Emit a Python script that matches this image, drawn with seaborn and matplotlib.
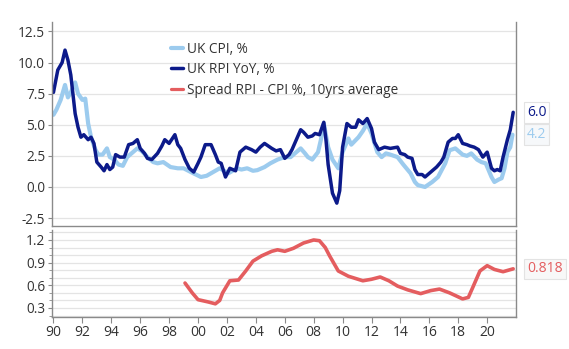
import matplotlib
matplotlib.use("Agg")
import matplotlib.pyplot as plt
import seaborn as sns
import pandas as pd
import numpy as np

# ---- data ----
rpi_years = [1990.0, 1990.3, 1990.6, 1990.8, 1991.0, 1991.2, 1991.5, 1991.7, 1991.9, 1992.1,
             1992.4, 1992.6, 1992.8, 1993.0, 1993.3, 1993.5, 1993.7, 1993.9, 1994.1, 1994.3,
             1994.6, 1994.9, 1995.2, 1995.5, 1995.8, 1996.0, 1996.3, 1996.5, 1996.8, 1997.2,
             1997.5, 1997.7, 1998.0, 1998.4, 1998.6, 1998.8, 1999.1, 1999.4, 1999.7, 2000.0,
             2000.2, 2000.5, 2000.9, 2001.2, 2001.4, 2001.6, 2001.9, 2002.2, 2002.6, 2002.9,
             2003.3, 2003.7, 2004.0, 2004.3, 2004.6, 2005.1, 2005.4, 2005.7, 2006.0, 2006.3,
             2006.5, 2006.8, 2007.1, 2007.3, 2007.6, 2007.9, 2008.1, 2008.4, 2008.7, 2008.85,
             2009.0, 2009.3, 2009.6, 2009.8, 2010.0, 2010.3, 2010.6, 2010.9, 2011.1, 2011.4,
             2011.7, 2012.0, 2012.2, 2012.5, 2012.9, 2013.3, 2013.8, 2014.0, 2014.3, 2014.5,
             2014.8, 2015.0, 2015.2, 2015.5, 2015.7, 2016.1, 2016.5, 2016.8, 2017.0, 2017.3,
             2017.6, 2017.8, 2018.0, 2018.3, 2018.6, 2018.8, 2019.1, 2019.4, 2019.7, 2020.0,
             2020.3, 2020.5, 2020.7, 2020.9, 2021.1, 2021.4, 2021.6, 2021.8]
rpi_values = [7.6, 9.4, 10.0, 11.0, 10.2, 9.0, 5.9, 4.8, 4.0, 4.2,
              3.8, 4.0, 3.5, 2.0, 1.6, 1.3, 1.8, 1.4, 1.6, 2.6,
              2.4, 2.4, 3.4, 3.5, 3.8, 3.1, 2.7, 2.3, 2.2, 2.7,
              3.3, 3.8, 3.5, 4.2, 3.4, 3.1, 2.2, 1.5, 1.2, 1.9,
              2.4, 3.4, 3.4, 2.6, 2.0, 1.9, 0.8, 1.5, 1.3, 2.8,
              3.2, 3.0, 2.8, 3.2, 3.5, 3.1, 2.9, 3.0, 2.3, 2.6,
              3.0, 3.8, 4.6, 4.4, 4.0, 4.1, 4.3, 4.2, 5.2, 3.8,
              1.8, -0.5, -1.3, -0.3, 3.2, 5.1, 4.8, 4.8, 5.4, 5.1,
              5.5, 4.7, 3.6, 3.0, 3.2, 3.1, 3.2, 2.7, 2.6, 2.4,
              2.3, 1.4, 1.0, 1.0, 0.8, 1.2, 1.6, 2.0, 2.4, 3.6,
              3.9, 3.9, 4.2, 3.5, 3.4, 3.3, 3.2, 3.0, 2.4, 2.8,
              1.5, 1.3, 1.4, 1.3, 2.4, 3.8, 4.6, 6.0]

cpi_years = [1990.0, 1990.2, 1990.5, 1990.8, 1991.0, 1991.2, 1991.5, 1991.7, 1992.0, 1992.2,
             1992.4, 1992.6, 1992.9, 1993.1, 1993.4, 1993.7, 1993.9, 1994.2, 1994.5, 1994.8,
             1995.1, 1995.5, 1995.8, 1996.1, 1996.5, 1996.9, 1997.2, 1997.6, 1998.1, 1998.6,
             1999.0, 1999.5, 2000.2, 2000.6, 2000.9, 2001.5, 2001.8, 2002.1, 2002.7, 2003.0,
             2003.4, 2003.8, 2004.1, 2004.6, 2005.0, 2005.5, 2006.0, 2006.4, 2006.6, 2007.1,
             2007.4, 2007.6, 2007.9, 2008.3, 2008.5, 2008.7, 2009.0, 2009.3, 2009.7, 2010.0,
             2010.4, 2010.6, 2011.1, 2011.4, 2011.7, 2012.0, 2012.4, 2012.7, 2013.0, 2013.3,
             2013.8, 2014.2, 2014.7, 2015.0, 2015.2, 2015.7, 2016.2, 2016.6, 2017.1, 2017.4,
             2017.8, 2018.3, 2018.6, 2018.9, 2019.3, 2019.6, 2019.9, 2020.3, 2020.5, 2020.8,
             2021.0, 2021.2, 2021.4, 2021.6, 2021.75]
cpi_values = [5.8, 6.2, 7.0, 8.2, 7.2, 7.6, 8.4, 7.5, 7.0, 7.1,
              5.1, 4.0, 3.0, 2.6, 2.6, 3.1, 2.4, 2.2, 1.8, 1.7,
              2.4, 2.8, 3.1, 2.9, 2.4, 2.0, 1.9, 2.0, 1.6, 1.5,
              1.5, 1.2, 0.8, 0.9, 1.1, 1.5, 1.3, 1.1, 1.5, 1.4,
              1.5, 1.3, 1.35, 1.6, 1.9, 2.2, 2.4, 2.4, 2.6, 3.1,
              2.7, 2.4, 2.2, 2.8, 3.8, 5.1, 3.2, 2.2, 1.5, 2.8,
              3.9, 3.4, 4.0, 4.5, 5.1, 4.3, 2.8, 2.4, 2.7, 2.6,
              2.4, 1.8, 1.1, 0.4, 0.15, 0.0, 0.4, 0.8, 1.9, 2.95,
              3.1, 2.6, 2.5, 2.7, 2.2, 2.0, 1.9, 0.8, 0.4, 0.6,
              0.7, 1.5, 2.8, 3.2, 4.2]

spread_years = [1999.1, 1999.6, 2000.0, 2000.7, 2001.2, 2001.5, 2001.7, 2002.2, 2002.8, 2003.3,
                2003.8, 2004.4, 2005.1, 2005.5, 2006.0, 2006.6, 2007.3, 2008.0, 2008.4, 2008.8,
                2009.1, 2009.7, 2010.4, 2011.4, 2012.0, 2012.6, 2013.2, 2013.8, 2014.5, 2015.4,
                2016.1, 2016.7, 2017.4, 2018.3, 2018.7, 2019.0, 2019.5, 2020.0, 2020.5, 2021.1,
                2021.8]
spread_values = [0.63, 0.50, 0.41, 0.38, 0.355, 0.40, 0.50, 0.66, 0.67, 0.79,
                 0.92, 0.99, 1.05, 1.07, 1.05, 1.09, 1.16, 1.20, 1.19, 1.10,
                 0.99, 0.79, 0.72, 0.66, 0.68, 0.71, 0.66, 0.59, 0.54, 0.49,
                 0.53, 0.55, 0.50, 0.42, 0.44, 0.57, 0.79, 0.86, 0.81, 0.78,
                 0.818]

x_ticks = [1990, 1992, 1994, 1996, 1998, 2000, 2002, 2004, 2006, 2008, 2010, 2012, 2014, 2016, 2018, 2020]
x_labels = ["90", "92", "94", "96", "98", "00", "02", "04", "06", "08", "10", "12", "14", "16", "18", "20"]
top_yticks = [-2.5, 0.0, 2.5, 5.0, 7.5, 10.0, 12.5]
bot_yticks = [0.3, 0.6, 0.9, 1.2]

cpi_label = "UK CPI, %"
rpi_label = "UK RPI YoY, %"
spread_label = "Spread RPI - CPI %, 10yrs average"

# ---- style ----
sns.set_style("white")
plt.rcParams["font.family"] = ["Open Sans", "DejaVu Sans"]

CPI_C = "#9ccbee"
RPI_C = "#0c1a8a"
SPR_C = "#e45d5f"
GRID_C = "#e4e4e4"
SPINE_C = "#8a8a8a"
TEXT_C = "#333333"

fig = plt.figure(figsize=(5.69, 3.49), dpi=100)
ax1 = fig.add_axes([0.0914, 0.352, 0.8156, 0.585])
ax2 = fig.add_axes([0.0914, 0.092, 0.8156, 0.249])

cpi_df = pd.DataFrame({"year": cpi_years, "value": cpi_values})
rpi_df = pd.DataFrame({"year": rpi_years, "value": rpi_values})
spr_df = pd.DataFrame({"year": spread_years, "value": spread_values})

sns.lineplot(data=cpi_df, x="year", y="value", ax=ax1, color=CPI_C, lw=3.0, label=cpi_label)
sns.lineplot(data=rpi_df, x="year", y="value", ax=ax1, color=RPI_C, lw=2.5, label=rpi_label)
ax1.plot([], [], color=SPR_C, lw=2.3, label=spread_label)
sns.lineplot(data=spr_df, x="year", y="value", ax=ax2, color=SPR_C, lw=2.6)

for ax in (ax1, ax2):
    ax.set_xlim(1989.9, 2022.0)
    ax.set_xlabel("")
    ax.set_ylabel("")
    ax.spines["top"].set_visible(False)
    for s in ("left", "right", "bottom"):
        ax.spines[s].set_color(SPINE_C)
        ax.spines[s].set_linewidth(1.0)
    ax.tick_params(axis="y", which="both", length=3, color=SPINE_C, labelsize=9.8,
                   labelcolor=TEXT_C, pad=2, left=True)
    ax.grid(axis="y", which="both", color=GRID_C, lw=0.9)
    ax.set_axisbelow(True)

ax1.set_ylim(-3.15, 13.26)
ax1.set_yticks(top_yticks)
ax1.set_yticklabels([f"{v:.1f}" for v in top_yticks])
ax1.set_xticks(x_ticks)
ax1.tick_params(axis="x", bottom=False, labelbottom=False)

ax2.set_ylim(0.182, 1.332)
ax2.set_yticks(bot_yticks)
ax2.set_yticklabels([f"{v:.1f}" for v in bot_yticks])
ax2.set_yticks(np.round(np.arange(0.2, 1.35, 0.1), 2), minor=True)
ax2.tick_params(axis="y", which="minor", length=2, color=SPINE_C)
ax2.set_xticks(x_ticks)
ax2.set_xticklabels(x_labels)
ax2.tick_params(axis="x", bottom=True, length=4, color=SPINE_C, labelsize=10,
                labelcolor=TEXT_C, pad=2)

leg = ax1.legend(loc="upper left", bbox_to_anchor=(0.245, 0.93), frameon=False,
                 fontsize=9.8, handlelength=0.9, handletextpad=0.3, labelspacing=0.4,
                 borderaxespad=0)
for t in leg.get_texts():
    t.set_color(TEXT_C)

def end_label(ax, y, txt, color, bg):
    ax.annotate(txt, xy=(1.0, y), xycoords=("axes fraction", "data"),
                xytext=(8, 0), textcoords="offset points", va="center", ha="left",
                fontsize=10, color=color,
                bbox=dict(boxstyle="square,pad=0.2", fc=bg, ec="#e3e3e3", lw=0.8))

end_label(ax1, rpi_values[-1], f"{rpi_values[-1]:.1f}", RPI_C, "white")
end_label(ax1, cpi_values[-1], f"{cpi_values[-1]:.1f}", CPI_C, "#f6f8fa")
end_label(ax2, spread_values[-1], f"{spread_values[-1]:.3f}", SPR_C, "#f8f8f8")

fig.savefig("out.png", dpi=100)
